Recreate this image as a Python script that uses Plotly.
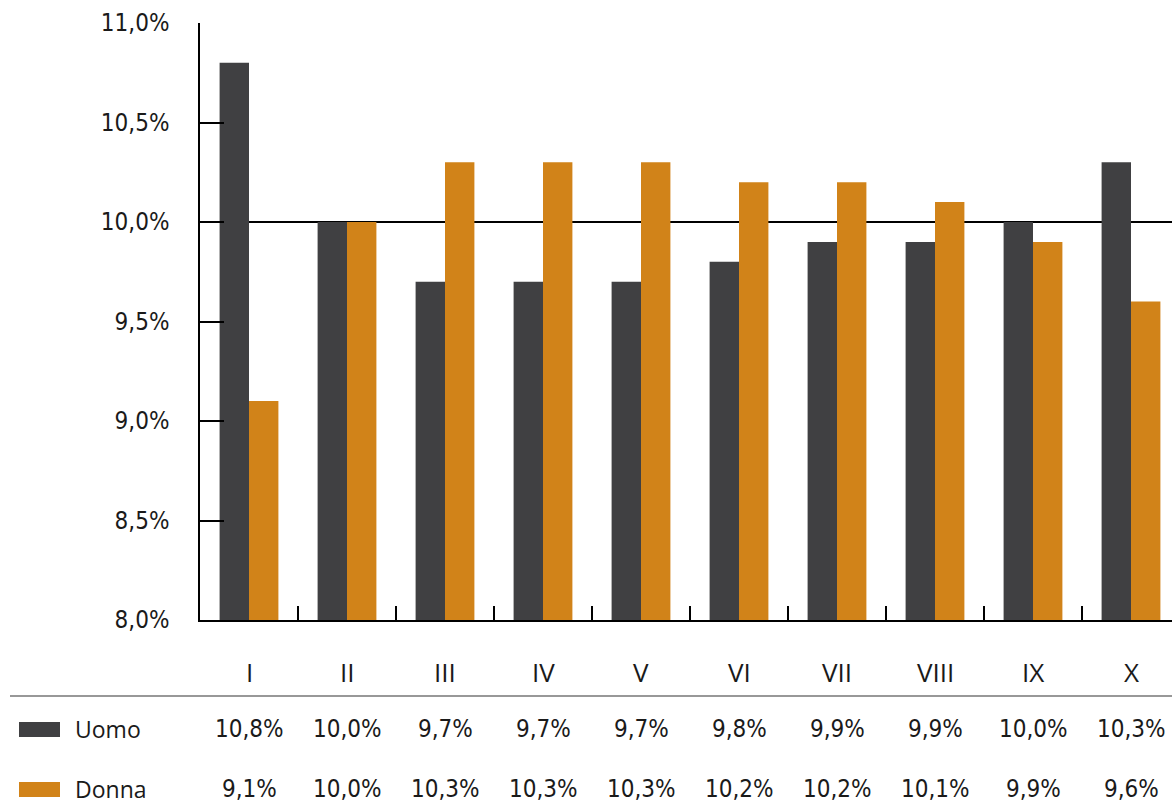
import plotly.graph_objects as go

categories = ["I", "II", "III", "IV", "V", "VI", "VII", "VIII", "IX", "X"]
uomo = [10.8, 10.0, 9.7, 9.7, 9.7, 9.8, 9.9, 9.9, 10.0, 10.3]
donna = [9.1, 10.0, 10.3, 10.3, 10.3, 10.2, 10.2, 10.1, 9.9, 9.6]
series_names = ["Uomo", "Donna"]
series_colors = ["#404042", "#D18319"]
y_ticks = [8.0, 8.5, 9.0, 9.5, 10.0, 10.5, 11.0]

TXT = "#1a1a1a"
FONT = "DejaVu Sans Condensed, DejaVu Sans, sans-serif"
FONT_B = "Open Sans, Noto Sans, sans-serif"
FS = 24

def fmt(v):
    return f"{v:.1f}".replace(".", ",") + "%"

fig = go.Figure()
for name, vals, col in zip(series_names, [uomo, donna], series_colors):
    fig.add_trace(go.Bar(x=categories, y=[v - 8 for v in vals], base=8, name=name,
                         marker=dict(color=col, line=dict(width=0))))

W, H = 1172, 812
L, T, B = 200, 23, 812 - 620
pw = W - L
ph = H - T - B

def px_x(px):
    return (px - L) / pw

def px_y(py):
    return (620 - py) / ph

fig.update_layout(
    width=W, height=H,
    margin=dict(l=L, r=0, t=T, b=B, pad=0),
    plot_bgcolor="white", paper_bgcolor="white",
    barmode="group", bargap=0.4, bargroupgap=0,
    showlegend=False,
    font=dict(family=FONT, color=TXT, size=FS),
    xaxis=dict(
        type="category", range=[-0.5, 9.5 - 8 / 98],
        showticklabels=False, ticks="inside", tickson="boundaries",
        ticklen=14, tickwidth=1.5, tickcolor="black",
        showline=True, linecolor="black", linewidth=1.5,
        showgrid=False, zeroline=False,
    ),
    yaxis=dict(
        range=[8, 11], tickvals=y_ticks, ticktext=[fmt(v) for v in y_ticks],
        ticks="inside", ticklen=24, tickwidth=1.5, tickcolor="black",
        showline=True, linecolor="black", linewidth=1.5,
        showgrid=False, zeroline=False, ticklabelstandoff=24,
        tickfont=dict(family=FONT, size=FS, color=TXT),
    ),
)

# reference line at 10,0%
fig.add_shape(type="line", xref="paper", yref="y", x0=0, x1=1, y0=10, y1=10,
              line=dict(color="black", width=1.8), layer="below")

# separator line of the table
fig.add_shape(type="line", xref="paper", yref="paper", x0=px_x(10), x1=1,
              y0=px_y(696), y1=px_y(696), line=dict(color="#333333", width=1.2))

# category labels
for c in categories:
    fig.add_annotation(x=c, xref="x", y=px_y(672), yref="paper", text=c,
                       showarrow=False, yanchor="middle",
                       font=dict(family=FONT_B, size=26, color=TXT, weight=500))

row_y = [729, 789]
for name, vals, col, py in zip(series_names, [uomo, donna], series_colors, row_y):
    fig.add_shape(type="rect", xref="paper", yref="paper",
                  x0=px_x(19), x1=px_x(60), y0=px_y(py + 8), y1=px_y(py - 7),
                  fillcolor=col, line=dict(width=0))
    fig.add_annotation(x=px_x(73), xref="paper", y=px_y(py), yref="paper",
                       text=name, showarrow=False, xanchor="left", yanchor="middle",
                       font=dict(family=FONT_B, size=23, color=TXT, weight=500))
    for c, v in zip(categories, vals):
        fig.add_annotation(x=c, xref="x", y=px_y(py), yref="paper", text=fmt(v),
                           showarrow=False, yanchor="middle",
                           font=dict(family=FONT, size=FS, color=TXT))

fig.write_html("out.html", config={"displayModeBar": False},
               post_script="document.body.style.margin='0';")
